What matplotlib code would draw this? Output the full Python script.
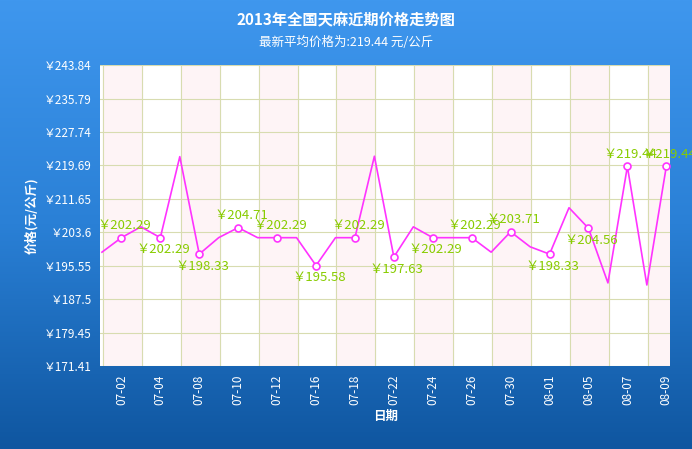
import numpy as np
import matplotlib.pyplot as plt
from matplotlib.colors import LinearSegmentedColormap

plt.rcParams['font.family'] = ['Noto Sans CJK SC', 'DejaVu Sans']

# price series (one value every ~1-2 days), labels only on odd points
dates = ['07-01', '07-02', '07-03', '07-04', '07-05', '07-08', '07-09', '07-10',
         '07-11', '07-12', '07-15', '07-16', '07-17', '07-18', '07-19', '07-22',
         '07-23', '07-24', '07-25', '07-26', '07-29', '07-30', '07-31', '08-01',
         '08-02', '08-05', '08-06', '08-07', '08-08', '08-09']
prices = [198.8, 202.29, 204.9, 202.29, 221.8, 198.33, 202.3, 204.71,
          202.29, 202.29, 202.29, 195.58, 202.29, 202.29, 221.9, 197.63,
          204.9, 202.29, 202.29, 202.29, 198.8, 203.71, 200.1, 198.33,
          209.5, 204.56, 191.4, 219.44, 190.9, 219.44]
label_up = [True, False, False, True, True, False, True, False,
            False, True, True, False, False, True, True]
yticks = [171.41, 179.45, 187.5, 195.55, 203.6, 211.65, 219.69, 227.74, 235.79, 243.84]
ytick_text = ['171.41', '179.45', '187.5', '195.55', '203.6',
              '211.65', '219.69', '227.74', '235.79', '243.84']

fig = plt.figure(figsize=(6.92, 4.49), dpi=100)

# blue gradient background
bg = fig.add_axes([0, 0, 1, 1])
cmap = LinearSegmentedColormap.from_list('bg', ['#0f56a0', '#2a80d6', '#3f97ee'])
grad = np.linspace(0, 1, 256).reshape(-1, 1)
bg.imshow(grad, aspect='auto', cmap=cmap, extent=[0, 1, 0, 1], origin='lower')
bg.set_axis_off()

fig.text(0.5, 0.955, '2013年全国天麻近期价格走势图', ha='center', va='center',
         color='white', fontsize=11, fontweight='bold')
fig.text(0.5, 0.905, '最新平均价格为:219.44 元/公斤', ha='center', va='center',
         color='white', fontsize=9)

ax = fig.add_axes([0.1445, 0.185, 0.824, 0.670])
ax.set_facecolor('white')
x = np.arange(len(prices))
ax.set_xlim(-0.1, 29.2)
ax.set_ylim(171.41, 243.84)

# pink bands and grid
for i in range(0, 30, 4):
    ax.axvspan(i + 0.05, i + 2.05, color='#fef4f6', zorder=0)
for i in range(0, 30, 2):
    ax.axvline(i + 0.05, color='#d8dcb0', lw=0.8, zorder=1)
for v in yticks:
    ax.axhline(v, color='#d8dcb0', lw=0.8, zorder=1)

ax.plot(x, prices, color='#ff33ff', lw=1.2, zorder=3)
mk = x[1::2]
mv = np.array(prices)[1::2]
ax.plot(mk, mv, 'o', ms=5, mfc='white', mec='#ff33ff', mew=1.2, zorder=4)
for xi, v, up in zip(mk, mv, label_up):
    ax.annotate('￥%.2f' % v, (xi, v),
                xytext=(3, 12 if up else -12), textcoords='offset pixels',
                ha='center', va='center', color='#88cc00', fontsize=9.5,
                annotation_clip=False, zorder=5)

ax.set_yticks(yticks)
ax.set_yticklabels(['￥' + t for t in ytick_text], color='white', fontsize=8.5)
ax.set_xticks(mk)
ax.set_xticklabels(dates[1::2], rotation=90, color='white', fontsize=8.5)
ax.tick_params(length=0, pad=6)
for s in ax.spines.values():
    s.set_visible(False)
ax.set_ylabel('价格(元/公斤)', color='white', fontsize=9, fontweight='bold')
ax.set_xlabel('日期', color='white', fontsize=9, fontweight='bold')

fig.savefig('out.png', dpi=100)
